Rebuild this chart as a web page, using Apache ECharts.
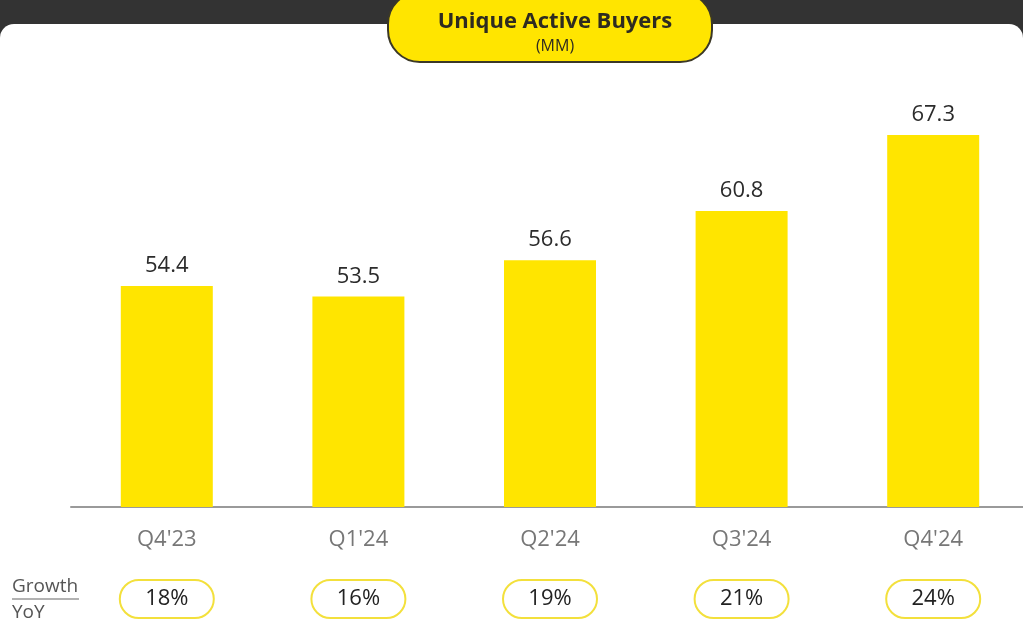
<!DOCTYPE html>
<html>
<head>
<meta charset="utf-8">
<script src="https://cdn.jsdelivr.net/npm/echarts@6/dist/echarts.min.js"></script>
<style>
  html, body { margin: 0; padding: 0; background: #333333; }
  #chart { width: 1023px; height: 621px; }
</style>
</head>
<body>
<div id="chart"></div>
<script>
// quarters and unique active buyers (MM)
const quarters = ["Q4'23", "Q1'24", "Q2'24", "Q3'24", "Q4'24"];
const buyers = [54.4, 53.5, 56.6, 60.8, 67.3];
const growthYoY = ['18%', '16%', '19%', '21%', '24%'];

const FONT = '"Open Sans", "Noto Sans", sans-serif';
const YELLOW = '#FFE500';

const chart = echarts.init(document.getElementById('chart'), null, { renderer: 'canvas' });

chart.setOption({
  backgroundColor: 'transparent',
  animation: false,
  title: {
    text: 'Unique Active Buyers',
    subtext: '(MM)',
    left: 550,
    top: 6,
    textAlign: 'center',
    itemGap: 5,
    textStyle: { fontFamily: FONT, fontSize: 22, fontWeight: 'bold', color: '#2e2b20' },
    subtextStyle: { fontFamily: FONT, fontSize: 16, color: '#2e2b20' },
    z: 10
  },
  graphic: [
    // white card under the dark strip
    {
      type: 'rect', z: -10, silent: true,
      shape: { x: 0, y: 24, width: 1023, height: 620, r: [14, 14, 0, 0] },
      style: { fill: '#ffffff' }
    },
    // title pill
    {
      type: 'rect', z: 5, silent: true,
      shape: { x: 388, y: -8, width: 324, height: 70, r: 32 },
      style: { fill: YELLOW, stroke: '#3b3826', lineWidth: 2 }
    },
    {
      type: 'text', left: 12, top: 577, silent: true,
      style: { text: 'Growth', font: '19px ' + FONT, fill: '#555555' }
    },
    {
      type: 'line', silent: true,
      shape: { x1: 12, y1: 599, x2: 79, y2: 599 },
      style: { stroke: '#666666', lineWidth: 1.2 }
    },
    {
      type: 'text', left: 12, top: 603, silent: true,
      style: { text: 'YoY', font: '19px ' + FONT, fill: '#555555' }
    }
  ],
  grid: { left: 71, width: 958, top: 80, bottom: 114, outerBoundsMode: 'none' },
  xAxis: [
    {
      type: 'category',
      data: quarters,
      axisLine: { lineStyle: { color: '#9a9a9a', width: 2 } },
      axisTick: { show: false },
      axisLabel: { color: '#777777', fontFamily: FONT, fontSize: 22, margin: 22 }
    },
    {
      type: 'category',
      position: 'bottom',
      data: growthYoY,
      axisLine: { show: false },
      axisTick: { show: false },
      axisLabel: {
        margin: 73,
        formatter: v => '{p|' + v + '}',
        rich: {
          p: {
            width: 94, height: 38, align: 'center', verticalAlign: 'middle',
            borderColor: '#f3e03c', borderWidth: 2, borderRadius: 20,
            fontFamily: FONT, fontSize: 22, color: '#222222'
          }
        }
      }
    }
  ],
  yAxis: { type: 'value', min: 35.5, max: 72, show: false, splitLine: { show: false } },
  series: [
    {
      type: 'bar',
      data: buyers,
      barWidth: 92,
      itemStyle: { color: YELLOW },
      label: {
        show: true,
        position: 'top',
        distance: 9,
        fontFamily: FONT,
        fontSize: 22,
        color: '#2b2b2b'
      }
    }
  ]
});
</script>
</body>
</html>
